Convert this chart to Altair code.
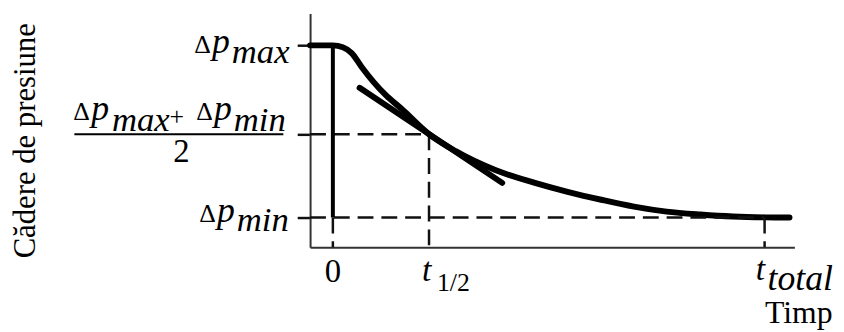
import altair as alt
import pandas as pd

# ---- values ----
T_MIN, T_MAX = -0.237, 4.80          # time axis extent
Y_MIN, Y_MAX = 0.655, 3.37           # pressure axis extent
T_ZERO = 0.0
T_HALF = 1.0
T_TOTAL = 4.49
P_MAX = 3.0
P_MID = 1.967
P_MIN = 1.0

curve_t = [-0.237, 0.0, 0.103, 0.196, 0.299, 0.422, 0.556, 0.711, 0.989, 1.277,
           1.689, 2.101, 2.441, 2.791, 3.131, 3.471, 3.822, 4.162, 4.501, 4.749]
curve_p = [3.0, 3.0, 2.979, 2.910, 2.749, 2.576, 2.415, 2.266, 1.978, 1.771,
           1.552, 1.403, 1.299, 1.207, 1.127, 1.069, 1.035, 1.012, 1.002, 1.0]

tangent_t = [0.278, 1.761]
tangent_p = [2.507, 1.403]

dash_t1 = [T_MIN, T_HALF, T_MIN, T_TOTAL, T_ZERO]
dash_t2 = [T_HALF, T_HALF, T_TOTAL, T_TOTAL, T_ZERO]
dash_p1 = [P_MID, P_MID, P_MIN, P_MIN, P_MIN]
dash_p2 = [P_MID, Y_MIN, P_MIN, Y_MIN, Y_MIN]

y_title = "Cădere de presiune"
x_title = "Timp"
delta = "Δ"
p_sym = "p"
sub_max = "max"
sub_min = "min"
plus = "+"
two = "2"
zero = "0"
t_sym = "t"
sub_half = "1/2"
sub_total = "total"

FONT = "Liberation Serif"

xs = alt.Scale(domain=[T_MIN, T_MAX], nice=False, zero=False)
ys = alt.Scale(domain=[Y_MIN, Y_MAX], nice=False, zero=False)

curve_df = pd.DataFrame({"t": curve_t, "p": curve_p})
tan_df = pd.DataFrame({"t": tangent_t, "p": tangent_p})
dash_df = pd.DataFrame({"t1": dash_t1, "t2": dash_t2, "p1": dash_p1, "p2": dash_p2})

curve = alt.Chart(curve_df).mark_line(
    color="black", strokeWidth=6, interpolate="monotone", strokeCap="round",
    strokeJoin="round"
).encode(
    x=alt.X("t:Q", scale=xs, axis=alt.Axis(
        values=[T_ZERO], labels=False, ticks=False, grid=False,
        domainColor="#333", domainWidth=2,
        title=x_title, titleFont=FONT, titleFontSize=32, titleFontWeight="normal",
        titleColor="black", titleX=527, titleY=76, titleAlign="right",
        titleBaseline="alphabetic", titleAngle=0)),
    y=alt.Y("p:Q", scale=ys, axis=alt.Axis(
        values=[P_MIN, P_MID, P_MAX], labels=False, ticks=True, tickSize=13,
        tickWidth=2.5, tickColor="#111", grid=False,
        domainColor="#333", domainWidth=2,
        title=y_title, titleFont=FONT, titleFontSize=31, titleFontWeight="normal",
        titleColor="black", titleX=-278, titleY=128, titleAlign="center",
        titleBaseline="alphabetic", titleAngle=270)),
    order="t:Q",
)

tangent = alt.Chart(tan_df).mark_line(
    color="black", strokeWidth=6, strokeCap="round"
).encode(x="t:Q", y="p:Q")

zero_bar = alt.Chart(pd.DataFrame({"a": [0]})).mark_rule(
    color="black", strokeWidth=4
).encode(x=alt.datum(T_ZERO), y=alt.datum(P_MIN), y2=alt.datum(P_MAX))

dashes = alt.Chart(dash_df).mark_rule(
    color="#111", strokeWidth=2.5, strokeDash=[16, 8]
).encode(x="t1:Q", x2="t2:Q", y="p1:Q", y2="p2:Q")

frac_bar = alt.Chart(pd.DataFrame({"a": [0]})).mark_rule(
    color="black", strokeWidth=2, xOffset=-238, x2Offset=-27
).encode(x=alt.datum(T_MIN), x2=alt.datum(T_MIN), y=alt.datum(P_MID))


def txt(s, t, p, dx, dy, size, italic=False, align="left"):
    return alt.Chart(pd.DataFrame({"label": [s]})).mark_text(
        font=FONT, fontSize=size, fontStyle="italic" if italic else "normal",
        align=align, baseline="alphabetic", dx=dx, dy=dy, color="black"
    ).encode(x=alt.datum(t), y=alt.datum(p), text="label:N")


texts = [
    # Δp_max
    txt(delta, T_MIN, P_MAX, -117, 8, 26),
    txt(p_sym, T_MIN, P_MAX, -99, 8, 36, True),
    txt(sub_max, T_MIN, P_MAX, -79, 18, 35, True),
    # (Δp_max + Δp_min) / 2
    txt(delta, T_MIN, P_MID, -239, -14, 26),
    txt(p_sym, T_MIN, P_MID, -221, -14, 36, True),
    txt(sub_max, T_MIN, P_MID, -200, -3, 35, True),
    txt(plus, T_MIN, P_MID, -142, -9, 26),
    txt(delta, T_MIN, P_MID, -115, -14, 26),
    txt(p_sym, T_MIN, P_MID, -97, -14, 36, True),
    txt(sub_min, T_MIN, P_MID, -77, -3, 35, True),
    txt(two, T_MIN, P_MID, -130, 28, 33, align="center"),
    # Δp_min
    txt(delta, T_MIN, P_MIN, -112, 4, 26),
    txt(p_sym, T_MIN, P_MIN, -94, 4, 36, True),
    txt(sub_min, T_MIN, P_MIN, -74, 14, 35, True),
    # time labels
    txt(zero, T_ZERO, Y_MIN, 0, 35, 33, align="center"),
    txt(t_sym, T_HALF, Y_MIN, -7, 34, 34, True),
    txt(sub_half, T_HALF, Y_MIN, 8, 44, 26),
    txt(t_sym, T_TOTAL, Y_MIN, -9, 33, 34, True),
    txt(sub_total, T_TOTAL, Y_MIN, 3, 43, 36, True),
]

chart = alt.layer(curve, dashes, zero_bar, tangent, frac_bar, *texts).properties(
    width=489, height=236,
    autosize=alt.AutoSizeParams(type="none"),
    padding={"left": 305, "top": 4, "right": 42, "bottom": 84},
    background="white",
).configure_view(stroke=None)

chart.save("out.html", embed_options={"renderer": "svg", "actions": False})
